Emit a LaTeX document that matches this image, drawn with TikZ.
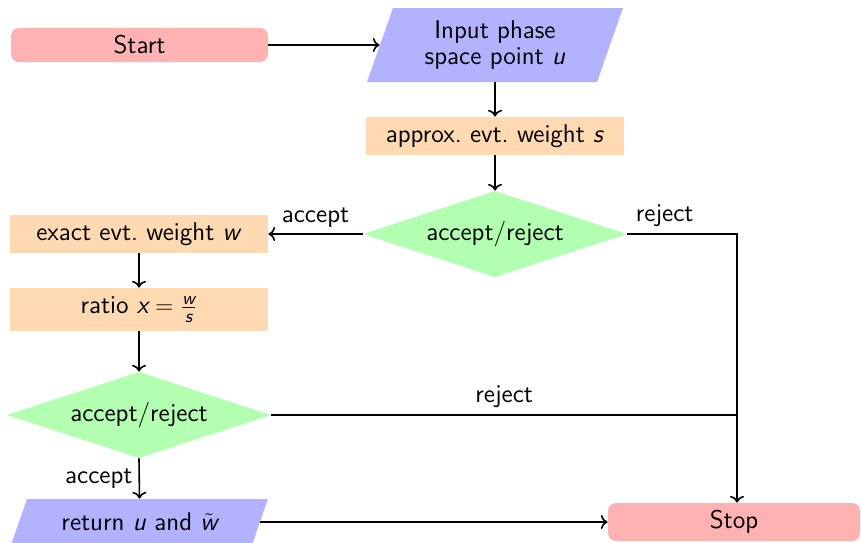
\documentclass[tikz,border=0pt]{standalone}
\usepackage{amsmath}
\usetikzlibrary{shapes.geometric,arrows.meta}
\begin{document}
\begin{tikzpicture}[x=0.5pt,y=-0.5pt,font=\sffamily\fontsize{12.8}{12.8}\selectfont,
  term/.style={rectangle,rounded corners=4pt,fill=red!30,inner sep=0pt},
  procbox/.style={rectangle,fill=orange!30,inner sep=0pt,minimum width=129pt},
  iobox/.style={rectangle,inner sep=0pt,align=center},
  decide/.style={rectangle,inner sep=0pt,minimum width=132pt,minimum height=43pt,
    path picture={\fill[green!30] (path picture bounding box.west) -- (path picture bounding box.north)
      -- (path picture bounding box.east) -- (path picture bounding box.south) -- cycle;}},
  conn/.style={thick,->},
  plainline/.style={thick},
  lbl/.style={inner sep=3pt}]
\useasboundingbox (0,0) rectangle (861,542);
% parallelogram backgrounds
\fill[blue!30] (367,82) -- (393,8) -- (623,8) -- (597,82) -- cycle;
\fill[blue!30] (11,545) -- (27,499) -- (268,499) -- (252,545) -- cycle;
\node[term,minimum width=128.5pt,minimum height=17pt] (start) at (139.5,45) {Start};
\node[iobox,minimum width=115pt,minimum height=37pt] (inp) at (495,45) {Input phase\\space point \textit{u}};
\node[procbox,minimum height=19pt] (approx) at (495,136) {approx.\ evt.\ weight \textit{s}};
\node[decide] (d1) at (495,234) {accept/reject};
\node[procbox,minimum height=19pt] (exact) at (139,234) {exact evt.\ weight \textit{w}};
\node[procbox,minimum height=21.5pt] (ratio) at (139,309.5) {ratio $\textit{x}=\frac{\textit{w}}{\textit{s}}$};
\node[decide,minimum height=43pt] (d2) at (139,415) {accept/reject};
\node[iobox,minimum width=120pt,minimum height=23pt] (ret) at (139.5,522) {return \textit{u} and $\tilde{\textit{w}}$};
\node[term,minimum width=126pt,minimum height=19pt] (stop) at (734,522) {Stop};
\coordinate (stopin) at ([xshift=1.5pt]stop.north);
\coordinate (join) at (stopin |- d2.east);
\draw[conn] (start.east) -- (inp.west);
\draw[conn] (inp.south) -- (approx.north);
\draw[conn] (approx.south) -- (d1.north);
\draw[conn] (d1.west) -- node[lbl,above] {accept} (exact.east);
\draw[conn] (exact.south) -- (ratio.north);
\draw[conn] (ratio.south) -- (d2.north);
\draw[conn] (d2.south) -- node[lbl,left] {accept} (ret.north);
\draw[conn] (d1.east) -| node[lbl,pos=0.17,above] {reject} (stopin);
\draw[plainline] (d2.east) -- node[lbl,above] {reject} (join);
\draw[conn] (ret.east) -- (stop.west);
\end{tikzpicture}
\end{document}
